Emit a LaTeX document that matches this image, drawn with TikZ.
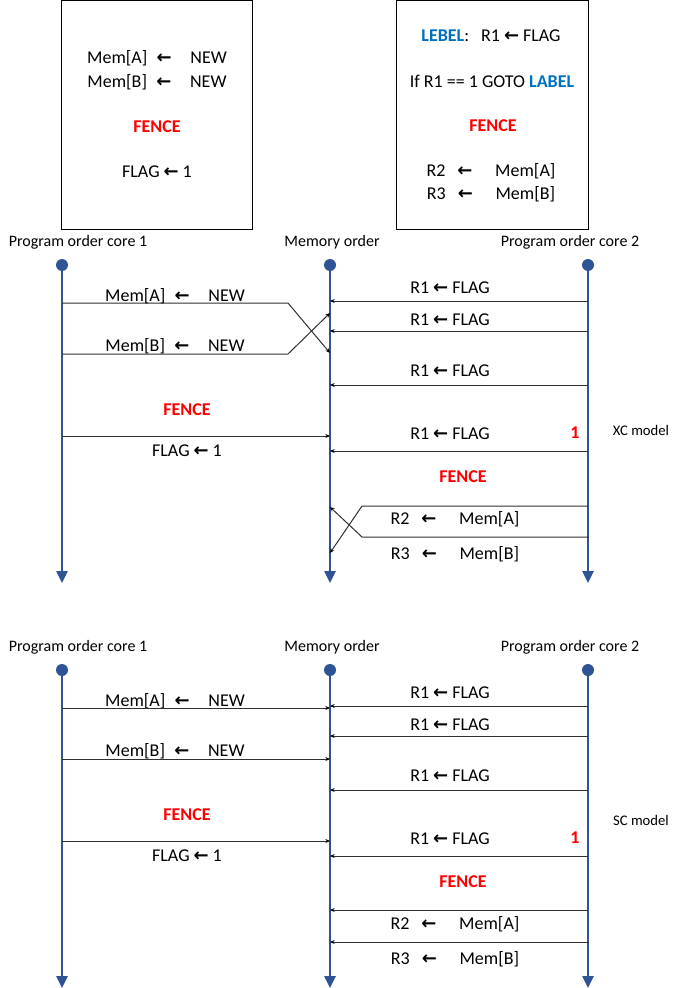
\documentclass[tikz,border=0pt]{standalone}
\usepackage{fontspec}
\setmainfont{Carlito}
\newfontfamily\arrfont{DejaVu Sans}
\newcommand\larr{{\arrfont\bfseries ←}}
\usetikzlibrary{arrows.meta}
\definecolor{lifeblue}{HTML}{2F5496}
\definecolor{fencered}{HTML}{FF0000}
\definecolor{labelblue}{HTML}{0070C0}
\definecolor{msggray}{HTML}{303030}
\begin{document}
\begin{tikzpicture}[x=0.75pt, y=-0.75pt,
    txt/.style = {inner sep=0pt, font=\fontsize{13.5}{16}\selectfont},
    head/.style = {inner sep=0pt, font=\fontsize{12}{14}\selectfont},
    fence/.style = {inner sep=0pt, text=fencered, font=\fontsize{13.5}{16}\selectfont\bfseries},
    codebox/.style = {draw, line width=0.75pt, minimum height=171pt},
    dot/.style = {circle, fill=lifeblue, inner sep=0pt, minimum size=9pt},
    life/.style = {draw=lifeblue, line width=1.1pt, -{Triangle[length=9pt, width=8.5pt]}},
    msg/.style = {draw=msggray, line width=0.75pt, -{Stealth[length=3.5pt, width=3pt, color=black]}}]
  \useasboundingbox (0,0) rectangle (681,988);
  % code of the two cores
  \node[codebox, minimum width=143.25pt] (code1) at (156.5,115) {};
  \node[codebox, minimum width=144pt] (code2) at (492,115) {};
  \node[txt] (ca) at (157,58) {Mem[A]\hspace{7pt}\larr\hspace{14pt}NEW};
  \node[txt] (cb) at (157,82) {Mem[B]\hspace{7pt}\larr\hspace{14pt}NEW};
  \node[fence] (cf1) at (157,127) {FENCE};
  \node[txt] (cg) at (157,172) {FLAG\hspace{3pt}\larr\hspace{3pt}1};
  \node[txt] (cl) at (491,36) {\textcolor{labelblue}{\bfseries LEBEL}:\hspace{9pt}R1\hspace{3pt}\larr\hspace{3pt}FLAG};
  \node[txt] (ci) at (492,81) {If R1 == 1 GOTO \textcolor{labelblue}{\bfseries LABEL}};
  \node[fence] (cf2) at (493,126) {FENCE};
  \node[txt] (cr2) at (491,171) {R2\hspace{9pt}\larr\hspace{17pt}Mem[A]};
  \node[txt] (cr3) at (491,194) {R3\hspace{9pt}\larr\hspace{17pt}Mem[B]};
  % both orderings
  \foreach \dy/\nm in {0/t, 405/b} {
    \node[head] (h1\nm) at (78,242+\dy) {Program order core 1};
    \node[head] (hm\nm) at (332,242+\dy) {Memory order};
    \node[head] (h2\nm) at (570,242+\dy) {Program order core 2};
    \node[dot] (c1\nm) at (62,265+\dy) {};
    \node[dot] (cm\nm) at (330,265+\dy) {};
    \node[dot] (c2\nm) at (588,265+\dy) {};
    \coordinate (e1\nm) at (62,583+\dy);
    \coordinate (em\nm) at (330,583+\dy);
    \coordinate (e2\nm) at (588,583+\dy);
    \draw[life] (c1\nm) -- (e1\nm);
    \draw[life] (cm\nm) -- (em\nm);
    \draw[life] (c2\nm) -- (e2\nm);
    %
    \node[txt] (wa\nm) at (175,296+\dy) {Mem[A]\hspace{7pt}\larr\hspace{14pt}NEW};
    \node[txt] (wb\nm) at (175,346+\dy) {Mem[B]\hspace{7pt}\larr\hspace{14pt}NEW};
    \node[fence] (fl\nm) at (187,410+\dy) {FENCE};
    \coordinate (gs\nm) at (62,436+\dy);
    \coordinate (ge\nm) at (330,436+\dy);
    \draw[msg] (gs\nm) -- (ge\nm);
    \node[txt] (gl\nm) at (187,451+\dy) {FLAG\hspace{3pt}\larr\hspace{3pt}1};
    %
    \foreach \y/\ly [count=\i] in {301/288, 331/320, 385/371, 451/434} {
      \coordinate (rs\i\nm) at (588,\y+\dy);
      \coordinate (re\i\nm) at (330,\y+\dy);
      \draw[msg] (rs\i\nm) -- (re\i\nm);
      \node[txt] (rl\i\nm) at (450,\ly+\dy) {R1\hspace{3pt}\larr\hspace{3pt}FLAG};
    }
    \node[fence] (one\nm) at (575,433+\dy) {1};
    \node[fence] (fr\nm) at (463,477+\dy) {FENCE};
    \node[txt] (r2\nm) at (455,519+\dy) {R2\hspace{9pt}\larr\hspace{17pt}Mem[A]};
    \node[txt] (r3\nm) at (455,554+\dy) {R3\hspace{9pt}\larr\hspace{17pt}Mem[B]};
  }
  % XC model: reordered
  \coordinate (wa0) at (62,303);
  \coordinate (wa1) at (288,303);
  \coordinate (wa2) at (330,353);
  \coordinate (wb0) at (62,354);
  \coordinate (wb1) at (288,354);
  \coordinate (wb2) at (330,313);
  \draw[msg] (wa0) -- (wa1) -- (wa2);
  \draw[msg] (wb0) -- (wb1) -- (wb2);
  \coordinate (ra0) at (588,506);
  \coordinate (ra1) at (362,506);
  \coordinate (ra2) at (330,553);
  \coordinate (rb0) at (589,537);
  \coordinate (rb1) at (362,537);
  \coordinate (rb2) at (330,507);
  \draw[msg] (ra0) -- (ra1) -- (ra2);
  \draw[msg] (rb0) -- (rb1) -- (rb2);
  \node[head, font=\fontsize{11}{13}\selectfont] (xc) at (641,430) {XC model};
  % SC model: in order
  \coordinate (sa0) at (62,708);
  \coordinate (sa1) at (330,708);
  \coordinate (sb0) at (62,759);
  \coordinate (sb1) at (330,759);
  \draw[msg] (sa0) -- (sa1);
  \draw[msg] (sb0) -- (sb1);
  \coordinate (sc0) at (588,910);
  \coordinate (sc1) at (330,910);
  \coordinate (sd0) at (589,942);
  \coordinate (sd1) at (330,942);
  \draw[msg] (sc0) -- (sc1);
  \draw[msg] (sd0) -- (sd1);
  \node[head, font=\fontsize{11}{13}\selectfont] (sc) at (641,820) {SC model};
\end{tikzpicture}
\end{document}
